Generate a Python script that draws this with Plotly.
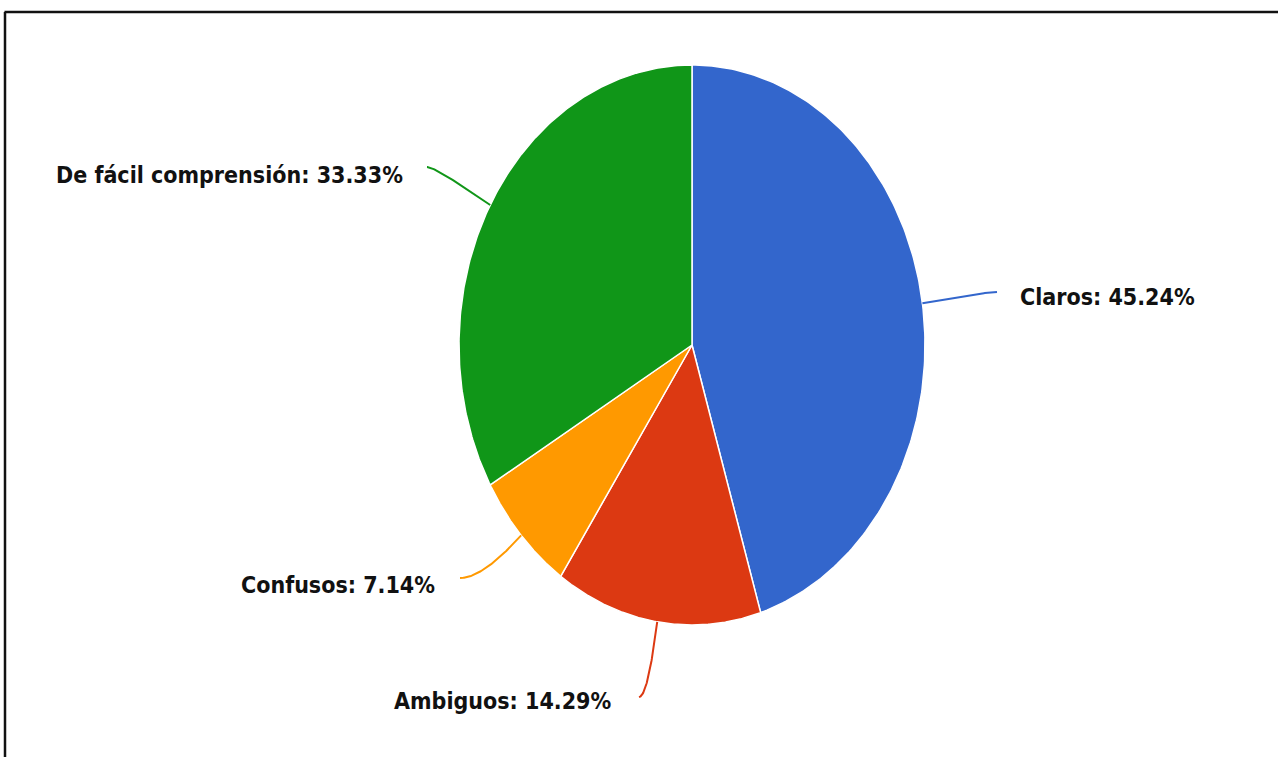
import numpy as np
import plotly.graph_objects as go

# Datos de la encuesta
categorias = ["Claros", "Ambiguos", "Confusos", "De fácil comprensión"]
porcentajes = [45.24, 14.29, 7.14, 33.33]
colores = ["#3366CC", "#DC3912", "#FF9900", "#109618"]

# Geometría del gráfico (en píxeles de la figura)
W, H = 1278, 757
CX, CY = 692, 345          # centro de la elipse
RX, RY = 233, 280          # semiejes horizontal y vertical

# Extremo de cada línea guía y posición de su etiqueta
etiquetas = {
    "Claros": dict(fin=(997, 292), texto=(1018, 297), anclaje="left"),
    "Ambiguos": dict(fin=(639, 697), texto=(613, 701), anclaje="right"),
    "Confusos": dict(fin=(460, 578), texto=(437, 585), anclaje="right"),
    "De fácil comprensión": dict(fin=(427, 167), texto=(405, 175), anclaje="right"),
}

FUENTE = "Liberation Sans Narrow, DejaVu Sans Condensed, Roboto Condensed, sans-serif"


def punto_elipse(frac):
    """Punto del borde para una fracción de vuelta medida en sentido horario desde arriba."""
    ang = 2 * np.pi * frac
    return CX + RX * np.sin(ang), CY - RY * np.cos(ang)


fig = go.Figure()

total = sum(porcentajes)
acumulado = 0.0
for cat, pct, col in zip(categorias, porcentajes, colores):
    f0 = acumulado / total
    f1 = (acumulado + pct) / total
    acumulado += pct

    # Sector elíptico
    fr = np.linspace(f0, f1, 200)
    xs, ys = punto_elipse(fr)
    xs = np.concatenate([[CX], xs, [CX]])
    ys = np.concatenate([[CY], ys, [CY]])
    fig.add_trace(go.Scatter(
        x=xs, y=ys, mode="lines", fill="toself", fillcolor=col,
        line=dict(color="white", width=1.5), hoverinfo="skip", showlegend=False,
    ))

    # Línea guía: curva cuadrática desde el borde del sector hasta la etiqueta
    fm = (f0 + f1) / 2
    sx, sy = punto_elipse(fm)
    ang = 2 * np.pi * fm
    dx, dy = RX * np.sin(ang), -RY * np.cos(ang)
    ex, ey = etiquetas[cat]["fin"]
    t_rad = (ey - sy) / dy if abs(dy) > 1e-6 else 0.5
    cx_, cy_ = sx + dx * t_rad, ey
    t = np.linspace(0, 1, 60)
    bx = (1 - t) ** 2 * sx + 2 * (1 - t) * t * cx_ + t ** 2 * ex
    by = (1 - t) ** 2 * sy + 2 * (1 - t) * t * cy_ + t ** 2 * ey
    fig.add_trace(go.Scatter(
        x=bx, y=by, mode="lines", line=dict(color=col, width=2),
        hoverinfo="skip", showlegend=False,
    ))

    tx, ty = etiquetas[cat]["texto"]
    fig.add_annotation(
        x=tx, y=ty, xref="x", yref="y", text=f"{cat}: {pct:.2f}%",
        showarrow=False, xanchor=etiquetas[cat]["anclaje"], yanchor="middle",
        font=dict(family=FUENTE, size=23, color="#111111", weight="bold"),
    )

# Marco superior e izquierdo
fig.add_shape(type="line", xref="paper", yref="paper", x0=0.0035, x1=1, y0=1 - 12 / H, y1=1 - 12 / H,
              line=dict(color="#111111", width=2.5))
fig.add_shape(type="line", xref="paper", yref="paper", x0=5 / W, x1=5 / W, y0=0, y1=1 - 12 / H,
              line=dict(color="#111111", width=2.5))

fig.update_layout(
    width=W, height=H,
    margin=dict(l=0, r=0, t=0, b=0),
    paper_bgcolor="white", plot_bgcolor="white",
    xaxis=dict(range=[0, W], visible=False, fixedrange=True),
    yaxis=dict(range=[H, 0], visible=False, fixedrange=True),
)

fig.write_html("out.html")
